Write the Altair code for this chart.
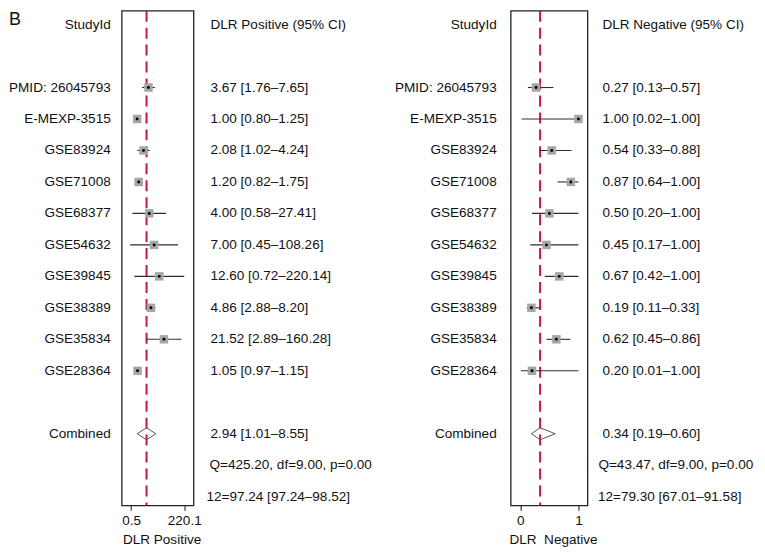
import altair as alt
import pandas as pd

# ---------------- data ----------------
studies = ["PMID: 26045793", "E-MEXP-3515", "GSE83924", "GSE71008", "GSE68377",
           "GSE54632", "GSE39845", "GSE38389", "GSE35834", "GSE28364"]

pos_est = [3.67, 1.00, 2.08, 1.20, 4.00, 7.00, 12.60, 4.86, 21.52, 1.05]
pos_lo = [1.76, 0.80, 1.02, 0.82, 0.58, 0.45, 0.72, 2.88, 2.89, 0.97]
pos_hi = [7.65, 1.25, 4.24, 1.75, 27.41, 108.26, 220.14, 8.20, 160.28, 1.15]
pos_comb = [2.94, 1.01, 8.55]
pos_q = "Q=425.20, df=9.00, p=0.00"
pos_i2 = "12=97.24 [97.24–98.52]"

neg_est = [0.27, 1.00, 0.54, 0.87, 0.50, 0.45, 0.67, 0.19, 0.62, 0.20]
neg_lo = [0.13, 0.02, 0.33, 0.64, 0.20, 0.17, 0.42, 0.11, 0.45, 0.01]
neg_hi = [0.57, 1.00, 0.88, 1.00, 1.00, 1.00, 1.00, 0.33, 0.86, 1.00]
neg_comb = [0.34, 0.19, 0.60]
neg_q = "Q=43.47, df=9.00, p=0.00"
neg_i2 = "12=79.30 [67.01–91.58]"

pos_axis_ticks = [0.5, 220.1]
neg_axis_ticks = [0, 1]

# ---------------- style / layout ----------------
FONT = "Liberation Sans"
FS = 13.6
TXT = "#111111"
H = 496
ROW_DOMAIN = [-2.44, 13.276]
HEADER_ROW, COMB_ROW, Q_ROW, I2_ROW = -2, 11, 12, 13
DH = 0.19  # diamond half-height in rows


def fmt(e, l, h):
    return f"{e:.2f} [{l:.2f}–{h:.2f}]"


def yenc():
    return alt.Y("row:Q",
                 scale=alt.Scale(domain=ROW_DOMAIN, reverse=True, nice=False, zero=False),
                 axis=None)


def label_chart(width, xpos, with_letter=False):
    df = pd.DataFrame({"row": [HEADER_ROW] + list(range(len(studies))) + [COMB_ROW],
                       "label": ["StudyId"] + studies + ["Combined"]})
    ch = alt.Chart(df).mark_text(align="right", baseline="middle", font=FONT,
                                 fontSize=FS, color=TXT).encode(
        x=alt.value(xpos), y=yenc(), text="label:N")
    layers = [ch]
    if with_letter:
        bdf = pd.DataFrame({"label": ["B"]})
        layers.append(alt.Chart(bdf).mark_text(align="left", baseline="top", font=FONT,
                                               fontSize=18, color=TXT).encode(
            x=alt.value(0), y=alt.value(0), text="label:N"))
    return alt.layer(*layers).properties(width=width, height=H,
                                         view=alt.ViewBackground(stroke="transparent"))


def value_chart(width, header, est, lo, hi, comb, q, i2, xv, xq, xi):
    df = pd.DataFrame({"row": [HEADER_ROW] + list(range(len(est))) + [COMB_ROW],
                       "txt": [header] + [fmt(e, l, h) for e, l, h in zip(est, lo, hi)]
                       + [fmt(*comb)]})
    qdf = pd.DataFrame({"row": [Q_ROW], "txt": [q]})
    idf = pd.DataFrame({"row": [I2_ROW], "txt": [i2]})
    base = dict(align="left", baseline="middle", font=FONT, fontSize=FS, color=TXT)
    a = alt.Chart(df).mark_text(**base).encode(x=alt.value(xv), y=yenc(), text="txt:N")
    b = alt.Chart(qdf).mark_text(**base).encode(x=alt.value(xq), y=yenc(), text="txt:N")
    c = alt.Chart(idf).mark_text(**base).encode(x=alt.value(xi), y=yenc(), text="txt:N")
    return alt.layer(a, b, c).properties(width=width, height=H,
                                         view=alt.ViewBackground(stroke="transparent"))


def plot_chart(width, est, lo, hi, comb, scale, ticks, fmt_str, title, title_x):
    sdf = pd.DataFrame({"row": list(range(len(est))), "est": est, "lo": lo, "hi": hi})
    cdf = pd.DataFrame({"row": [COMB_ROW], "est": [comb[0]]})
    ddf = pd.DataFrame({"x": [comb[1], comb[0], comb[2], comb[0], comb[1]],
                        "row": [COMB_ROW, COMB_ROW - DH, COMB_ROW, COMB_ROW + DH, COMB_ROW],
                        "o": [0, 1, 2, 3, 4]})
    axis = alt.Axis(values=ticks, format=fmt_str, title=title, grid=False, domain=False,
                    ticks=True, tickSize=5, tickColor="#111", tickWidth=1,
                    labelFont=FONT, labelFontSize=FS, labelColor=TXT, labelPadding=3,
                    labelFlush=False, titleFont=FONT, titleFontSize=FS,
                    titleFontWeight="normal", titleColor=TXT, titlePadding=6,
                    titleX=title_x)

    def X(f):
        return alt.X(f, type="quantitative", scale=scale, axis=axis)

    red = alt.Chart(cdf).mark_rule(color="#c8163a", strokeWidth=2,
                                   strokeDash=[11, 6]).encode(x=X("est"))
    ci = alt.Chart(sdf).mark_rule(color="#2e2e2e", strokeWidth=1.1).encode(
        x=X("lo"), x2="hi", y=yenc())
    sq = alt.Chart(sdf).mark_square(size=72, color="#a6a6a6", opacity=1).encode(
        x=X("est"), y=yenc())
    dot = alt.Chart(sdf).mark_circle(size=9, color="#000000", opacity=1).encode(
        x=X("est"), y=yenc())
    dia = alt.Chart(ddf).mark_line(color="#555555", strokeWidth=1).encode(
        x=X("x"), y=yenc(), order="o:Q")
    return alt.layer(red, ci, sq, dot, dia).properties(
        width=width, height=H, view=alt.ViewBackground(stroke="#222222", strokeWidth=1.3))


labL = label_chart(113, 102, with_letter=True)
plotL = plot_chart(72, pos_est, pos_lo, pos_hi, pos_comb,
                   alt.Scale(type="log", domain=[0.171, 636], nice=False),
                   pos_axis_ticks, ".1f", "DLR Positive", 40)
valL = value_chart(200, "DLR Positive (95% CI)", pos_est, pos_lo, pos_hi, pos_comb,
                   pos_q, pos_i2, 17, 16, 13)
labR = label_chart(118, 104)
plotR = plot_chart(77, neg_est, neg_lo, neg_hi, neg_comb,
                   alt.Scale(domain=[-0.167, 1.155], nice=False, zero=False),
                   neg_axis_ticks, "d", "DLR\u00a0 Negative", 42.5)
valR = value_chart(169, "DLR Negative (95% CI)", neg_est, neg_lo, neg_hi, neg_comb,
                   neg_q, neg_i2, 15, 11, 10.5)

chart = alt.hconcat(labL, plotL, valL, labR, plotR, valR, spacing=0,
                    bounds="flush").properties(
    padding={"left": 0, "top": 0, "right": 0, "bottom": 0}
).configure_view(stroke="transparent")

chart.save("out.html", embed_options={"renderer": "svg", "actions": False})
